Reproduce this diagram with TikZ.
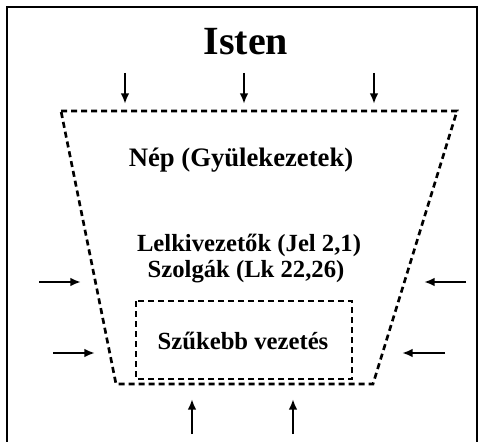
\documentclass[tikz,border=0pt]{standalone}
\usepackage{fontspec}
\setmainfont{Liberation Serif}
\usetikzlibrary{arrows.meta}
\begin{document}
\begin{tikzpicture}[x=0.75pt,y=-0.75pt,
  arr/.style={line width=1.9pt,-{Latex[length=8pt,width=6.5pt]}},
  dsh/.style={line width=2pt,dash pattern=on 4.5pt off 3pt},
  lbl/.style={font=\bfseries,inner sep=0pt,anchor=base}]
\useasboundingbox (0,0) rectangle (482,442);
\draw[line width=1.3pt] (7,460) -- (7,7) -- (477,7) -- (477,460);
% title
\node[lbl,font=\bfseries\fontsize{30}{34}\selectfont] (isten) at (246,55) {Isten};
% trapezoid
\coordinate (tl) at (61,111);
\coordinate (tr) at (457,111);
\coordinate (br) at (373,384);
\coordinate (bl) at (116,384);
\draw[dsh] (tl) -- (tr) -- (br) -- (bl) -- cycle;
% inner rectangle
\coordinate (ia) at (136,301);
\coordinate (ib) at (352,379);
\draw[dsh] (ia) rectangle (ib);
% texts
\node[lbl,font=\bfseries\fontsize{20}{24}\selectfont] (nep) at (241,167) {Nép (Gyülekezetek)};
\node[lbl,font=\bfseries\fontsize{18.5}{22}\selectfont] (lelki) at (249,251) {Lelkivezetők (Jel 2,1)};
\node[lbl,font=\bfseries\fontsize{18.5}{22}\selectfont] (szolg) at (246,277) {Szolgák (Lk 22,26)};
\node[lbl,font=\bfseries\fontsize{18.5}{22}\selectfont] (szuk) at (243,349) {Szűkebb vezetés};
% down arrows
\coordinate (d1s) at (125,73); \coordinate (d1e) at (125,104);
\coordinate (d2s) at (244,73); \coordinate (d2e) at (244,104);
\coordinate (d3s) at (374,73); \coordinate (d3e) at (374,104);
\draw[arr] (d1s) -- (d1e);
\draw[arr] (d2s) -- (d2e);
\draw[arr] (d3s) -- (d3e);
% side arrows
\coordinate (l1s) at (39,282); \coordinate (l1e) at (81,282);
\coordinate (l2s) at (53,353); \coordinate (l2e) at (95,353);
\coordinate (r1s) at (466,282); \coordinate (r1e) at (424,282);
\coordinate (r2s) at (445,353); \coordinate (r2e) at (402,353);
\draw[arr] (l1s) -- (l1e);
\draw[arr] (l2s) -- (l2e);
\draw[arr] (r1s) -- (r1e);
\draw[arr] (r2s) -- (r2e);
% up arrows
\coordinate (u1s) at (192,434); \coordinate (u1e) at (192,399);
\coordinate (u2s) at (293,434); \coordinate (u2e) at (293,399);
\draw[arr] (u1s) -- (u1e);
\draw[arr] (u2s) -- (u2e);
\end{tikzpicture}
\end{document}
